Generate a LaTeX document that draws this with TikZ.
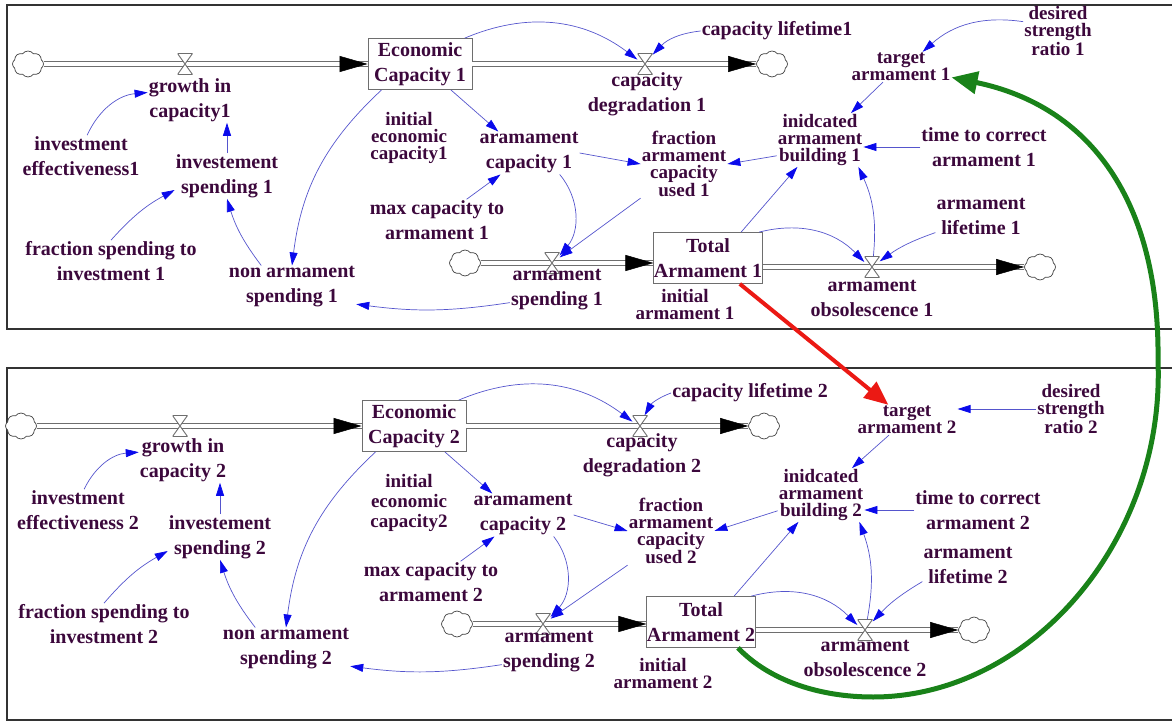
\documentclass[tikz,border=0pt]{standalone}
\usepackage{fontspec}
\setmainfont{Liberation Serif}
\usetikzlibrary{arrows.meta,shapes.symbols}

\definecolor{vartext}{RGB}{60,8,60}
\definecolor{linkline}{RGB}{85,85,205}
\definecolor{linkhead}{RGB}{10,10,235}
\definecolor{pipegray}{RGB}{110,110,110}
\definecolor{crossred}{RGB}{235,25,20}
\definecolor{loopgreen}{RGB}{25,130,25}

\tikzset{
  var/.style={text=vartext, font=\bfseries\fontsize{20}{25}\selectfont, align=center, inner sep=1pt},
  tightvar/.style={var, font=\bfseries\fontsize{19}{17}\selectfont},
  stock/.style={var, draw=pipegray, line width=0.8pt, fill=white, minimum width=104pt, minimum height=51pt, inner sep=0pt},
  valve/.style={minimum width=15pt, minimum height=21pt, inner sep=0pt,
    path picture={\draw[pipegray, fill=white, line width=0.9pt]
      (path picture bounding box.north west) -- (path picture bounding box.north east)
      -- (path picture bounding box.south west) -- (path picture bounding box.south east) -- cycle;}},
  sourcesink/.style={cloud, cloud puffs=8, cloud puff arc=110, cloud ignores aspect, draw=black!75, line width=0.7pt,
    fill=white, minimum width=31pt, minimum height=26pt, inner sep=0pt},
  pipe/.style={draw=pipegray, line width=1pt, double=white, double distance=3.2pt},
  pipetip/.style={draw=white, line width=0.5pt, -{Triangle[length=28pt,width=16pt,color=black]}},
  link/.style={draw=linkline, line width=0.7pt, -{Triangle[length=13pt,width=8pt,color=linkhead]}},
  cross/.style={draw=crossred, line width=4pt, -{Triangle[length=24pt,width=20pt]}},
  feedback/.style={draw=loopgreen, line width=5pt, -{Triangle[length=26pt,width=22pt]}},
  frame/.style={draw=black!80, line width=1.2pt}
}

\begin{document}
\begin{tikzpicture}[x=1pt,y=1pt]
\useasboundingbox (0,0) rectangle (1172,721);

% upper model
\draw[frame] (1172,716) -- (7,716) -- (7,392) -- (1172,392);

\node[sourcesink] (srcA) at (28,657) {};
\node[stock] (ecoA) at (420,657) {Economic\\Capacity 1};
\node[sourcesink] (sinkA) at (772,657) {};
\node[sourcesink] (srcA2) at (465,458) {};
\node[stock] (totA) at (708,463) {Total\\Armament 1};
\node[sourcesink] (sinkA2) at (1040,454) {};

\draw[pipe] (srcA) -- (ecoA);
\draw[pipe] (ecoA) -- (sinkA);
\draw[pipe] (srcA2) -- (srcA2 -| totA.west);
\draw[pipe] (sinkA2 -| totA.east) -- (sinkA2);

\node[valve] (vgrowA) at (185,657) {};
\node[valve] (vdegA) at (645,657) {};
\node[valve] (vspendA) at (552,458) {};
\node[valve] (vobsA) at (872,454) {};

\draw[pipetip] (vgrowA) -- (ecoA);
\draw[pipetip] (vdegA) -- (sinkA);
\draw[pipetip] (vspendA) -- (vspendA -| totA.west);
\draw[pipetip] (vobsA) -- (sinkA2);

\node[var] (growA) at (190,621) {growth in\\capacity1};
\node[var] (effA) at (81,565) {investment\\effectiveness1};
\node[var] (invA) at (227,545) {investement\\spending 1};
\node[var] (fracinvA) at (111,460) {fraction spending to\\investment 1};
\node[var] (nonA) at (292,434) {non armament\\spending 1};
\node[tightvar] (initecoA) at (409,583) {initial\\economic\\capacity1};
\node[var] (armcapA) at (529,568) {aramament\\capacity 1};
\node[var] (maxA) at (437,501) {max capacity to\\armament 1};
\node[var] (degA) at (647,627) {capacity\\degradation 1};
\node[var] (lifeA) at (777,690) {capacity lifetime1};
\node[tightvar] (fracA) at (684,557) {fraction\\armament\\capacity\\used 1};
\node[var] (spendA) at (557,431) {armament\\spending 1};
\node[tightvar] (initarmA) at (685,416) {initial\\armament 1};
\node[var] (obsA) at (872,423) {armament\\obsolescence 1};
\node[var] (alifeA) at (981,505) {armament\\lifetime 1};
\node[tightvar] (indA) at (820,581) {inidcated\\armament\\building 1};
\node[var] (tcorA) at (984,574) {time to correct\\armament 1};
\node[tightvar] (tgtA) at (901,654) {target\\armament 1};
\node[tightvar] (desA) at (1058,690) {desired\\strength\\ratio 1};

\draw[link] (effA) to[bend left=30] (growA.170);
\draw[link] (invA.north) -- (invA.north |- growA.south);
\draw[link] (fracinvA.north) to[bend left=10] (invA.195);
\draw[link] (nonA.145) to[bend left=10] (invA.south);
\draw[link] (ecoA.214) to[bend right=20] (nonA.north);
\draw[link] (ecoA) to[bend left=30] (vdegA);
\draw[link] (lifeA.west) to[bend right=20] (vdegA);
\draw[link] (ecoA.-40) -- (armcapA.145);
\draw[link] (maxA.35) -- (armcapA.217);
\draw[link] (armcapA.east) -- (fracA.west);
\draw[link] (fracA.south west) -- (vspendA);
\draw[link] (armcapA.-35) to[bend left=40] (vspendA);
\draw[link] (spendA.195) to[bend left=8] (nonA.-15);
\draw[link] (indA.200) -- (fracA.east);
\draw[link] (tcorA.west) -- (tcorA.west -| indA.east);
\draw[link] (tgtA.220) -- (indA.41);
\draw[link] (desA.165) to[bend right=25] (tgtA.35);
\draw[link] (totA) to[bend left=30] (vobsA);
\draw[link] (alifeA.200) to[bend right=8] (vobsA);
\draw[link] (vobsA) to[bend right=15] (indA.-35);
\draw[link] (totA.38) -- (indA.230);

% lower model
\draw[frame] (1172,353) -- (7,353) -- (7,1) -- (1172,1);

\node[sourcesink] (srcB) at (21,295) {};
\node[stock] (ecoB) at (414,295) {Economic\\Capacity 2};
\node[sourcesink] (sinkB) at (764,295) {};
\node[sourcesink] (srcB2) at (457,97) {};
\node[stock] (totB) at (701,99) {Total\\Armament 2};
\node[sourcesink] (sinkB2) at (974,91) {};

\draw[pipe] (srcB) -- (ecoB);
\draw[pipe] (ecoB) -- (sinkB);
\draw[pipe] (srcB2) -- (srcB2 -| totB.west);
\draw[pipe] (sinkB2 -| totB.east) -- (sinkB2);

\node[valve] (vgrowB) at (180,295) {};
\node[valve] (vdegB) at (640,295) {};
\node[valve] (vspendB) at (543,97) {};
\node[valve] (vobsB) at (865,91) {};

\draw[pipetip] (vgrowB) -- (ecoB);
\draw[pipetip] (vdegB) -- (sinkB);
\draw[pipetip] (vspendB) -- (vspendB -| totB.west);
\draw[pipetip] (vobsB) -- (sinkB2);

\node[var] (growB) at (183,261) {growth in\\capacity 2};
\node[var] (effB) at (78,211) {investment\\effectiveness 2};
\node[var] (invB) at (220,184) {investement\\spending 2};
\node[var] (fracinvB) at (104,97) {fraction spending to\\investment 2};
\node[var] (nonB) at (286,72) {non armament\\spending 2};
\node[var, font=\bfseries\fontsize{19}{20}\selectfont] (initecoB) at (409,218) {initial\\economic\\capacity2};
\node[var] (armcapB) at (523,206) {aramament\\capacity 2};
\node[var] (maxB) at (431,139) {max capacity to\\armament 2};
\node[var] (degB) at (642,266) {capacity\\degradation 2};
\node[var] (lifeB) at (750,328) {capacity lifetime 2};
\node[tightvar] (fracB) at (671,190) {fraction\\armament\\capacity\\used 2};
\node[var] (spendB) at (549,69) {armament\\spending 2};
\node[tightvar] (initarmB) at (663,48) {initial\\armament 2};
\node[var] (obsB) at (865,63) {armament\\obsolescence 2};
\node[var] (alifeB) at (968,156) {armament\\lifetime 2};
\node[tightvar] (indB) at (821,226) {inidcated\\armament\\building 2};
\node[var] (tcorB) at (978,211) {time to correct\\armament 2};
\node[tightvar] (tgtB) at (907,301) {target\\armament 2};
\node[tightvar] (desB) at (1071,312) {desired\\strength\\ratio 2};

\draw[link] (effB) to[bend left=30] (growB.170);
\draw[link] (invB.north) -- (invB.north |- growB.south);
\draw[link] (fracinvB.north) to[bend left=10] (invB.195);
\draw[link] (nonB.145) to[bend left=10] (invB.south);
\draw[link] (ecoB.214) to[bend right=20] (nonB.north);
\draw[link] (ecoB) to[bend left=30] (vdegB);
\draw[link] (lifeB.west) to[bend right=20] (vdegB);
\draw[link] (ecoB.-40) -- (armcapB.145);
\draw[link] (maxB.35) -- (armcapB.217);
\draw[link] (armcapB.east) -- (fracB.west);
\draw[link] (fracB.south west) -- (vspendB);
\draw[link] (armcapB.-35) to[bend left=40] (vspendB);
\draw[link] (spendB.195) to[bend left=8] (nonB.-15);
\draw[link] (indB.200) -- (fracB.east);
\draw[link] (tcorB.west) -- (tcorB.west -| indB.east);
\draw[link] (tgtB.220) -- (indB.41);
\draw[link] (desB.west) -- (desB.west -| tgtB.east);
\draw[link] (totB) to[bend left=30] (vobsB);
\draw[link] (alifeB.200) to[bend right=8] (vobsB);
\draw[link] (vobsB) to[bend right=15] (indB.-35);
\draw[link] (totB.38) -- (indB.230);

% links between the two models
\coordinate (loopbot) at (873,24);
\coordinate (loopside) at (1158,360);
\draw[cross] (totA) -- (tgtB);
\draw[feedback] (totB.-35) .. controls (770,40) and (820,24) .. (loopbot)
  .. controls (1030,24) and (1165,180) .. (loopside)
  .. controls (1160,520) and (1090,615) .. (tgtA);
\end{tikzpicture}
\end{document}
